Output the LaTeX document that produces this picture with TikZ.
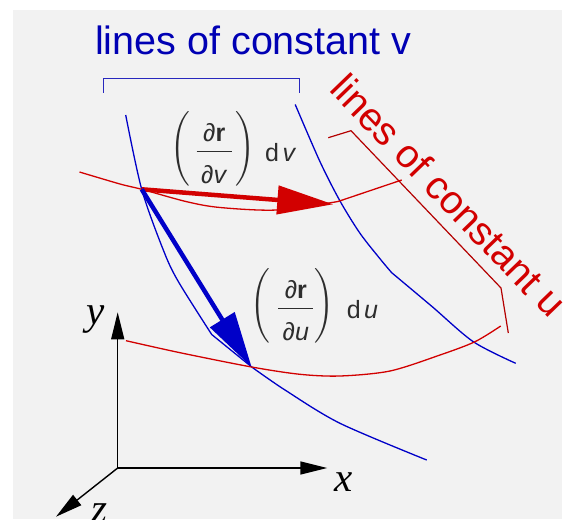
\documentclass[tikz,border=0pt]{standalone}
\usepackage{exscale}
\usepackage{fontspec}
\setmainfont{Liberation Sans}
\newfontfamily\axisfont{Liberation Serif}
\usetikzlibrary{arrows.meta}
\definecolor{bgray}{RGB}{242,242,242}
\definecolor{cblue}{RGB}{0,0,200}
\definecolor{tblue}{RGB}{0,0,180}
\definecolor{brblue}{RGB}{40,40,190}
\definecolor{cred}{RGB}{210,0,0}
\definecolor{brred}{RGB}{180,0,0}
\definecolor{lgray}{RGB}{45,45,45}
\newcommand{\bigparen}[1]{$\left#1\vphantom{\rule[-33pt]{0pt}{78pt}}\right.$}
\newcommand{\pfrac}[1]{$\displaystyle{\makebox[35pt]{\textit{∂}\textbf{r}}\above1.6pt\makebox[35pt]{\rule{0pt}{26pt}\textit{∂#1}}}$}
\tikzset{
  bline/.style={draw=cblue, line width=1.3pt, line join=round},
  rline/.style={draw=cred, line width=1.3pt, line join=round},
  bracketb/.style={draw=brblue, line width=1.3pt},
  bracketr/.style={draw=brred, line width=1.2pt},
  axisline/.style={draw=black, line width=1.4pt, -{Triangle[length=27pt,width=13pt]}},
  bigarrow/.style={line width=4.5pt, -{Triangle[length=56pt,width=28pt]}},
  lbl/.style={text=lgray, inner sep=0pt, font=\fontsize{25}{30}\selectfont},
  parenlbl/.style={text=lgray, inner sep=0pt, font=\fontsize{23.5}{28}\selectfont},
  axlbl/.style={inner sep=0pt, font=\fontsize{41}{46}\selectfont\axisfont\itshape},
  bigtext/.style={inner sep=0pt, font=\fontsize{39.5}{45}\selectfont}
}
\begin{document}
\begin{tikzpicture}[x=1pt,y=-1pt]
\useasboundingbox[fill=white] (0,0) rectangle (569,519);
\fill[bgray] (12.7,10) rectangle (561.7,519);
% coordinates
\coordinate (P) at (141.7,189.3);
\coordinate (Q) at (333.3,204.3);
\coordinate (R) at (251.7,367.3);
\coordinate (O) at (117.7,468);
\coordinate (Ytip) at (117.7,312.3);
\coordinate (Xtip) at (327.3,468);
\coordinate (Ztip) at (56,516.7);
% brackets
\draw[bracketb] (103.2,92.7) -- (103.2,78.3) -- (299.8,78.3) -- (299.8,92.7);
\draw[bracketr] (328.3,137.7) -- (351,130.7) -- (501,288) -- (508.3,333);
% lines of constant v
\draw[bline] plot[smooth] coordinates {(125.7,115) (141.7,189.3) (163.3,250) (178,281) (211.7,334.5)}
  -- plot[smooth] coordinates {(251.7,367) (285,390) (340,423.3) (426.7,460)};
\draw[bline] plot[smooth] coordinates {(295.2,104.5) (320,161.7) (340,201) (360,233.3) (381,260) (391.7,272.7)}
  -- plot[smooth] coordinates {(391.7,272.7) (432,306.5) (473.3,341.7) (515.7,363.3)};
% lines of constant u
\draw[rline] plot[smooth] coordinates {(79.5,172) (120,184) (141.7,189.3) (186.7,201.7) (220,207.5) (276.7,210) (338,201.5)} -- (401.7,180);
\draw[rline] plot[smooth] coordinates {(126,340.7) (180,352.7) (251.7,367) (300,374.3) (340,376) (390,371) (440,355) (475,341.7) (500.7,326)};
% big arrows
\draw[bigarrow, draw=cred, fill=cred] (P) -- (Q);
\draw[bigarrow, draw=cblue, fill=cblue] (P) -- (R);
% axes
\draw[axisline] (O) -- (Ytip);
\draw[axisline] (O) -- (Xtip);
\draw[axisline] (O) -- (Ztip);
\node[axlbl, anchor=base] (ly) at (96,324.7) {y};
\node[axlbl, anchor=base] (lx) at (344,491.5) {x};
\node[axlbl, anchor=base] (lz) at (99,522) {z};
% label dr/dv dv
\node[parenlbl] (lvl) at (180.9,149.2) {\bigparen{(}};
\node[lbl, anchor=base] (lvf) at (214.2,157.9) {\pfrac{v}};
\node[parenlbl] (lvr) at (245.5,149.2) {\bigparen{)}};
\node[lbl, anchor=base west] (lvd) at (265,161.5) {d\hspace{3.5pt}\textit{v}};
% label dr/du du
\node[parenlbl] (lul) at (260.9,306.2) {\bigparen{(}};
\node[lbl, anchor=base] (luf) at (295.8,314.9) {\pfrac{u}};
\node[parenlbl] (lur) at (325,306.2) {\bigparen{)}};
\node[lbl, anchor=base west] (lud) at (346.6,318.5) {d\hspace{3.5pt}\textit{u}};
% titles
\node[bigtext, text=tblue, anchor=base west] (tv) at (95,55) {lines of constant v};
\node[bigtext, text=cred, anchor=base west, rotate=-46] (tu) at (328,90.5) {lines of constant u};
\end{tikzpicture}
\end{document}
